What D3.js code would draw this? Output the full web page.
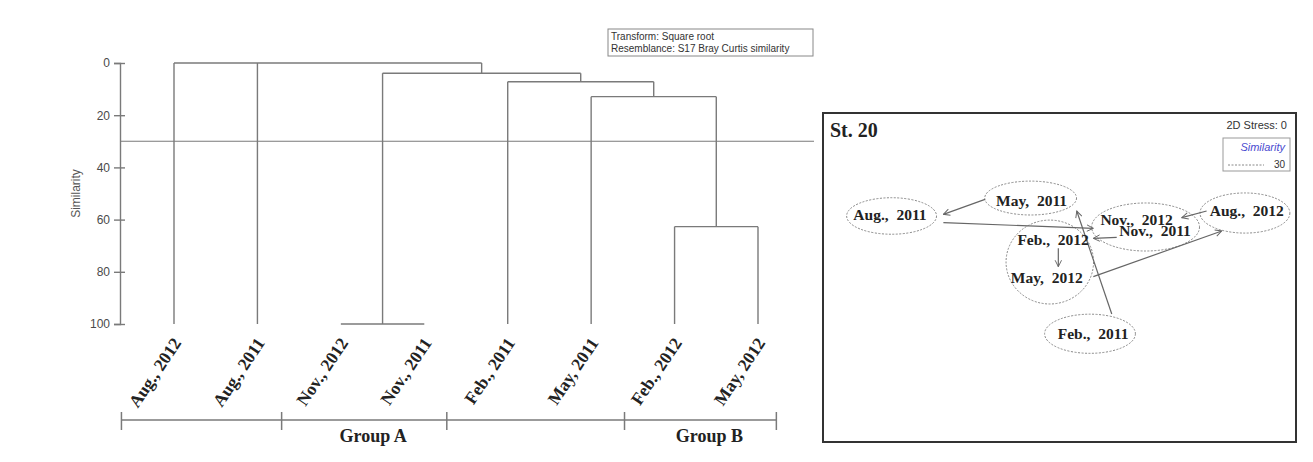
<!DOCTYPE html>
<html>
<head>
<meta charset="utf-8">
<script src="https://cdn.jsdelivr.net/npm/d3@7"></script>
<style>
  body { margin: 0; background: #fff; }
  svg { display: block; }
  .mlabel { white-space: pre; }
</style>
</head>
<body>
<div id="chart"></div>
<script>
// ---- dendrogram data ----
const leaves = ["Aug., 2012", "Aug., 2011", "Nov., 2012", "Nov., 2011",
                "Feb., 2011", "May, 2011", "Feb., 2012", "May, 2012"];
// merges: children joined at a similarity level (bottom-up)
const mergeIds = ["n1", "n2", "n3", "n4", "n5", "root"];
const mergeChildren = [
  ["Nov., 2012", "Nov., 2011"],
  ["Feb., 2012", "May, 2012"],
  ["May, 2011", "n2"],
  ["Feb., 2011", "n3"],
  ["n1", "n4"],
  ["Aug., 2012", "Aug., 2011", "n5"]
];
const mergeSimilarity = [100, 62.7, 12.9, 7.2, 3.9, 0];
const yTicks = [0, 20, 40, 60, 80, 100];
const cutLevel = 30;
const legendLines = ["Transform: Square root", "Resemblance: S17 Bray Curtis similarity"];
// group bracket bounds in leaf-index units
const groupBounds = [-0.63, 1.29, 3.27, 5.4, 7.22];
const groupNames = ["", "Group A", "", "Group B"];

// ---- MDS data ----
const mdsLabels = ["Feb.,  2011", "May,  2011", "Aug.,  2011", "Nov.,  2011",
                   "Feb.,  2012", "May,  2012", "Aug.,  2012", "Nov.,  2012"];
const mdsX = [0.142, -0.118, -0.717, 0.404, -0.027, -0.054, 0.792, 0.326];
const mdsY = [-0.343, 0.467, 0.380, 0.284, 0.228, -0.003, 0.404, 0.350];
// similarity 30 contours (centre x, centre y, radius x, radius y)
const contourCx = [-0.710, -0.122, 0.364, 0.784, -0.041, 0.129];
const contourCy = [0.374, 0.483, 0.307, 0.392, 0.094, -0.342];
const contourRx = [0.190, 0.194, 0.228, 0.190, 0.185, 0.192];
const contourRy = [0.111, 0.103, 0.146, 0.122, 0.255, 0.119];
// time trajectory arrows (from -> to)
const arrowFrom = [[0.221, -0.222], [-0.315, 0.475], [-0.491, 0.333], [0.242, 0.244],
                   [-0.005, 0.178], [0.143, 0.005], [0.622, 0.404]];
const arrowTo = [[0.073, 0.404], [-0.491, 0.384], [0.143, 0.299], [0.143, 0.238],
                 [-0.005, 0.066], [0.686, 0.283], [0.517, 0.364]];

const width = 1313, height = 462;
const svg = d3.select("#chart").append("svg")
  .attr("width", width).attr("height", height);

const lineCol = "#7a7a7a";

// ---------- dendrogram ----------
const x = d3.scalePoint().domain(leaves).range([174, 758]);
const xi = d3.scaleLinear().domain([0, leaves.length - 1]).range([174, 758]);
const y = d3.scaleLinear().domain([0, 100]).range([63, 324]);

const dendro = svg.append("g");

// y axis
const yAxis = dendro.append("g")
  .attr("transform", "translate(120,0)")
  .call(d3.axisLeft(y).tickValues(yTicks).tickSize(6).tickPadding(4));
yAxis.select(".domain").attr("stroke", lineCol).attr("stroke-width", 1.4);
yAxis.selectAll(".tick line").attr("stroke", lineCol).attr("stroke-width", 1.4).attr("x2", 5).attr("x1", -6);
yAxis.selectAll(".tick text")
  .attr("font-family", "Liberation Sans, Arial, sans-serif")
  .attr("font-size", 12).attr("fill", "#4a4a4a");

dendro.append("text")
  .attr("transform", `translate(80,${y(50)}) rotate(-90)`)
  .attr("text-anchor", "middle")
  .attr("font-family", "Liberation Sans, Arial, sans-serif")
  .attr("font-size", 12).attr("fill", "#555")
  .text("Similarity");

// compute node positions
const pos = {};
leaves.forEach(l => { pos[l] = {x: x(l), y: y(100)}; });
mergeIds.forEach((id, i) => {
  const kids = mergeChildren[i].map(c => pos[c]);
  const lvl = y(mergeSimilarity[i]);
  const xs = kids.map(k => k.x);
  // vertical from each child up to this level
  kids.forEach(k => {
    if (k.y !== lvl) {
      dendro.append("line")
        .attr("x1", k.x).attr("x2", k.x).attr("y1", k.y).attr("y2", lvl)
        .attr("stroke", lineCol).attr("stroke-width", 1.4);
    }
  });
  dendro.append("line")
    .attr("x1", d3.min(xs)).attr("x2", d3.max(xs)).attr("y1", lvl).attr("y2", lvl)
    .attr("stroke", lineCol).attr("stroke-width", 1.4);
  pos[id] = {x: (d3.min(xs) + d3.max(xs)) / 2, y: lvl};
});

// cut line at similarity 30
dendro.append("line")
  .attr("x1", 120).attr("x2", 814)
  .attr("y1", y(cutLevel)).attr("y2", y(cutLevel))
  .attr("stroke", lineCol).attr("stroke-width", 1.1);

// leaf labels
dendro.selectAll(".leaf")
  .data(leaves)
  .join("text")
  .attr("class", "leaf")
  .attr("transform", d => `translate(${x(d) + 8},${y(100) + 19}) rotate(-56)`)
  .attr("text-anchor", "end")
  .attr("font-family", "Liberation Serif, Times New Roman, serif")
  .attr("font-weight", "bold")
  .attr("font-size", 17.5)
  .attr("fill", "#222")
  .text(d => d);

// legend box
const lg = dendro.append("g");
lg.append("rect")
  .attr("x", 608).attr("y", 29).attr("width", 205).attr("height", 27)
  .attr("fill", "#fff").attr("stroke", "#888").attr("stroke-width", 1);
lg.selectAll("text")
  .data(legendLines)
  .join("text")
  .attr("x", 611).attr("y", (d, i) => 40 + i * 12)
  .attr("font-family", "Liberation Sans, Arial, sans-serif")
  .attr("font-size", 10).attr("fill", "#333")
  .text(d => d);

// group bracket
const bracketY = 420;
dendro.append("line")
  .attr("x1", xi(groupBounds[0])).attr("x2", xi(groupBounds[groupBounds.length - 1]))
  .attr("y1", bracketY).attr("y2", bracketY)
  .attr("stroke", lineCol).attr("stroke-width", 1.5);
dendro.selectAll(".gtick")
  .data(groupBounds)
  .join("line")
  .attr("class", "gtick")
  .attr("x1", d => xi(d)).attr("x2", d => xi(d))
  .attr("y1", bracketY - 8).attr("y2", bracketY + 10)
  .attr("stroke", lineCol).attr("stroke-width", 1.5);
dendro.selectAll(".gname")
  .data(groupNames)
  .join("text")
  .attr("class", "gname")
  .attr("x", (d, i) => (xi(groupBounds[i]) + xi(groupBounds[i + 1])) / 2 + 9)
  .attr("y", 442)
  .attr("text-anchor", "middle")
  .attr("font-family", "Liberation Serif, Times New Roman, serif")
  .attr("font-weight", "bold")
  .attr("font-size", 18)
  .attr("fill", "#222")
  .text(d => d);

// ---------- MDS panel ----------
const mx = d3.scaleLinear().domain([-1, 1]).range([823, 1296]);
const my = d3.scaleLinear().domain([-1, 1]).range([442, 113]);
const mds = svg.append("g");

mds.append("rect")
  .attr("x", 823).attr("y", 113)
  .attr("width", mx(1) - mx(-1)).attr("height", my(-1) - my(1))
  .attr("fill", "#fff").attr("stroke", "#333").attr("stroke-width", 2);

mds.append("text")
  .attr("x", 830).attr("y", 137)
  .attr("font-family", "Liberation Serif, Times New Roman, serif")
  .attr("font-weight", "bold").attr("font-size", 20).attr("fill", "#222")
  .text("St. 20");

mds.append("text")
  .attr("x", 1287).attr("y", 129)
  .attr("text-anchor", "end")
  .attr("font-family", "Liberation Sans, Arial, sans-serif")
  .attr("font-size", 11).attr("fill", "#333")
  .text("2D Stress: 0");

mds.append("rect")
  .attr("x", 1223).attr("y", 138).attr("width", 67).attr("height", 33)
  .attr("fill", "#fff").attr("stroke", "#999").attr("stroke-width", 1);
mds.append("text")
  .attr("x", 1285).attr("y", 151)
  .attr("text-anchor", "end")
  .attr("font-family", "Liberation Sans, Arial, sans-serif")
  .attr("font-style", "italic")
  .attr("font-size", 11).attr("fill", "#4a4ad0")
  .text("Similarity");
mds.append("line")
  .attr("x1", 1228).attr("x2", 1264).attr("y1", 165).attr("y2", 165)
  .attr("stroke", "#888").attr("stroke-width", 1).attr("stroke-dasharray", "2,1.5");
mds.append("text")
  .attr("x", 1285).attr("y", 168)
  .attr("text-anchor", "end")
  .attr("font-family", "Liberation Sans, Arial, sans-serif")
  .attr("font-size", 10).attr("fill", "#333")
  .text("30");

// similarity contours
mds.selectAll(".contour")
  .data(contourCx)
  .join("ellipse")
  .attr("class", "contour")
  .attr("cx", d => mx(d))
  .attr("cy", (d, i) => my(contourCy[i]))
  .attr("rx", (d, i) => mx(contourRx[i]) - mx(0))
  .attr("ry", (d, i) => my(0) - my(contourRy[i]))
  .attr("fill", "none")
  .attr("stroke", "#888").attr("stroke-width", 1)
  .attr("stroke-dasharray", "2,1.5");

// arrowhead
svg.append("defs").append("marker")
  .attr("id", "arr")
  .attr("viewBox", "0 0 10 10")
  .attr("refX", 9).attr("refY", 5)
  .attr("markerWidth", 8).attr("markerHeight", 8)
  .attr("markerUnits", "userSpaceOnUse")
  .attr("orient", "auto")
  .append("path")
  .attr("d", "M1,1 L9,5 L1,9")
  .attr("fill", "none").attr("stroke", "#666").attr("stroke-width", 1.2);

mds.selectAll(".traj")
  .data(arrowFrom)
  .join("line")
  .attr("class", "traj")
  .attr("x1", d => mx(d[0])).attr("y1", d => my(d[1]))
  .attr("x2", (d, i) => mx(arrowTo[i][0])).attr("y2", (d, i) => my(arrowTo[i][1]))
  .attr("stroke", "#666").attr("stroke-width", 1.2)
  .attr("marker-end", "url(#arr)");

// sample labels
mds.selectAll(".mlabel")
  .data(mdsLabels)
  .join("text")
  .attr("class", "mlabel")
  .attr("x", (d, i) => mx(mdsX[i]))
  .attr("y", (d, i) => my(mdsY[i]))
  .attr("dy", "0.35em")
  .attr("text-anchor", "middle")
  .attr("font-family", "Liberation Serif, Times New Roman, serif")
  .attr("font-weight", "bold")
  .attr("font-size", 15.5)
  .attr("fill", "#222")
  .text(d => d);
</script>
</body>
</html>
